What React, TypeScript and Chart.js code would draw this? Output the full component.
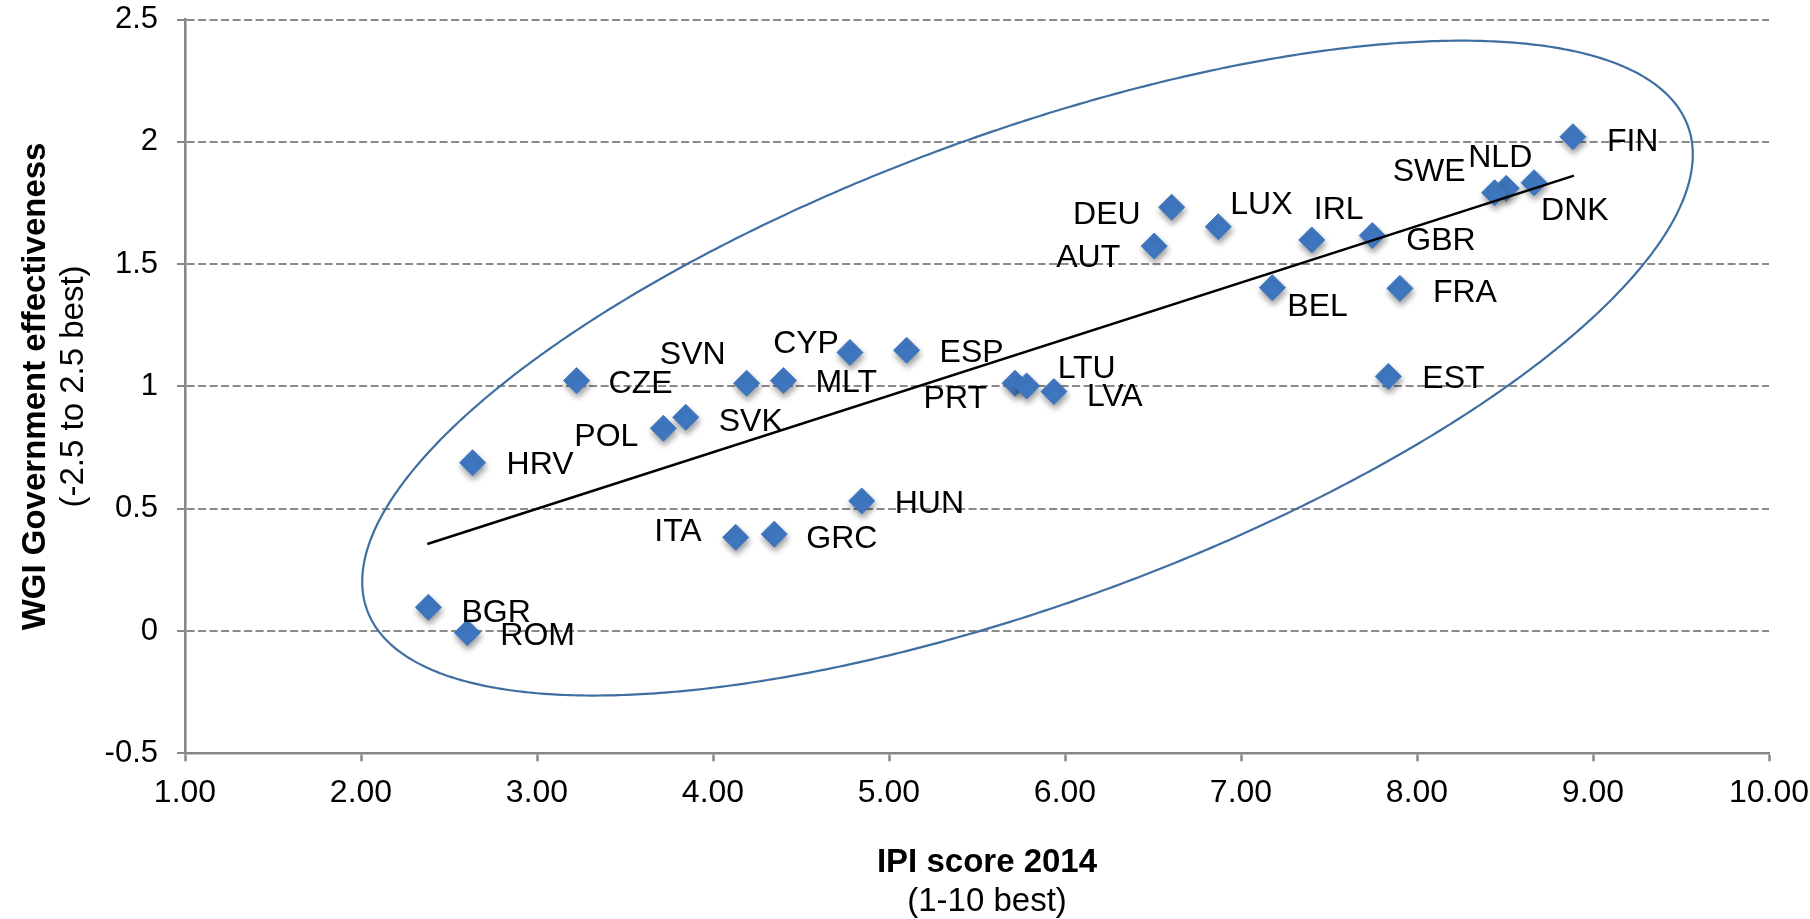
import React, { useEffect, useRef } from "react";
import { Chart, registerables } from "chart.js";

Chart.register(...registerables);

// ---------------- data ----------------
const countries = [
  "FIN", "NLD", "SWE", "DNK", "DEU", "LUX", "IRL", "GBR", "AUT", "BEL",
  "FRA", "EST", "CYP", "ESP", "PRT", "LTU", "LVA", "SVN", "MLT", "CZE",
  "SVK", "POL", "HRV", "HUN", "GRC", "ITA", "BGR", "ROM",
];
const ipiScore2014 = [
  8.886, 8.507, 8.441, 8.665, 6.606, 6.871, 7.402, 7.746, 6.507, 7.178,
  7.903, 7.837, 4.778, 5.1, 5.716, 5.782, 5.937, 4.191, 4.4, 3.225,
  3.845, 3.718, 2.634, 4.845, 4.348, 4.129, 2.383, 2.604,
];
const wgiGovEffectiveness = [
  2.021, 1.81, 1.792, 1.833, 1.733, 1.653, 1.599, 1.617, 1.574, 1.404,
  1.401, 1.041, 1.139, 1.148, 1.013, 1.002, 0.979, 1.013, 1.024, 1.024,
  0.874, 0.829, 0.688, 0.532, 0.396, 0.383, 0.097, -0.007,
];
// linear trend line end points
const trendIpi = [2.377, 8.892];
const trendWgi = [0.356, 1.862];
// hand-drawn ellipse (data units): centre, rightmost point, top point on the centre's vertical
const ellipseCenter = [5.787, 1.075];
const ellipseRightmost = [9.567, 1.948];
const ellipseTopAtCenter = [5.787, 2.09];

const xTitle = "IPI score 2014";
const xSubtitle = "(1-10 best)";
const yTitle = "WGI Government effectiveness";
const ySubtitle = "(-2.5 to 2.5 best)";

// ---------------- style ----------------
const FONT = "'Liberation Sans', Arial, Helvetica, sans-serif";
const GRID = "#8a8a8a";
const AXIS = "#878787";
const DIAMOND = "#3f78c1";
const ELLIPSE = "#3f6fa1";

type Anchor = "left" | "right" | "center";
// label anchor relative to its point: [textAlign, dx, dy]
const labelPlacement: Record<string, [Anchor, number, number]> = {
  FIN: ["left", 34, 3],
  NLD: ["center", -6, -33],
  SWE: ["right", -29, -23],
  DNK: ["left", 7, 26],
  DEU: ["right", -31, 5],
  LUX: ["left", 12, -24],
  IRL: ["left", 2, -32],
  GBR: ["left", 34, 3],
  AUT: ["right", -34, 9],
  BEL: ["left", 15, 17],
  FRA: ["left", 33, 2],
  EST: ["left", 34, 0],
  CYP: ["right", -11, -11],
  ESP: ["left", 33, 0],
  PRT: ["right", -28, 13],
  LTU: ["left", 31, -19],
  LVA: ["left", 33, 3],
  SVN: ["right", -21, -31],
  MLT: ["left", 32, 0],
  CZE: ["left", 32, 1],
  SVK: ["left", 33, 2],
  POL: ["right", -25, 6],
  HRV: ["left", 34, 0],
  HUN: ["left", 33, 1],
  GRC: ["left", 32, 2],
  ITA: ["right", -34, -8],
  BGR: ["left", 33, 3],
  ROM: ["left", 33, 1],
};

const CANVAS_W = 1810;
const CANVAS_H = 919;

const shadowPlugin = {
  id: "diamondShadow",
  beforeDatasetDraw(chart: any, args: any) {
    if (chart.data.datasets[args.index].label !== "Countries") return;
    const ctx = chart.ctx;
    ctx.save();
    ctx.shadowColor = "rgba(0,0,0,0.4)";
    ctx.shadowBlur = 6;
    ctx.shadowOffsetX = 1;
    ctx.shadowOffsetY = 4;
  },
  afterDatasetDraw(chart: any, args: any) {
    if (chart.data.datasets[args.index].label !== "Countries") return;
    chart.ctx.restore();
  },
};

const ellipsePlugin = {
  id: "ellipseShape",
  afterDatasetsDraw(chart: any) {
    const { ctx } = chart;
    const xs = chart.scales.x;
    const ys = chart.scales.y;
    const [cx, cy] = ellipseCenter;
    const ux = ellipseRightmost[0] - cx;
    const uy = ellipseRightmost[1] - cy;
    const vx = ellipseTopAtCenter[0] - cx;
    const vy = ellipseTopAtCenter[1] - cy;
    ctx.save();
    ctx.beginPath();
    for (let k = 0; k <= 720; k++) {
      const t = (k / 720) * Math.PI * 2;
      const dx = cx + ux * Math.cos(t) + vx * Math.sin(t);
      const dy = cy + uy * Math.cos(t) + vy * Math.sin(t);
      const px = xs.getPixelForValue(dx);
      const py = ys.getPixelForValue(dy);
      if (k === 0) ctx.moveTo(px, py);
      else ctx.lineTo(px, py);
    }
    ctx.closePath();
    ctx.strokeStyle = ELLIPSE;
    ctx.lineWidth = 2.2;
    ctx.stroke();
    ctx.restore();
  },
};

const labelsPlugin = {
  id: "pointLabels",
  afterDatasetsDraw(chart: any) {
    const { ctx } = chart;
    const idx = chart.data.datasets.findIndex((d: any) => d.label === "Countries");
    const meta = chart.getDatasetMeta(idx);
    const size = 32;
    ctx.save();
    ctx.font = `${size}px ${FONT}`;
    ctx.fillStyle = "#000";
    ctx.textBaseline = "alphabetic";
    meta.data.forEach((pt: any, i: number) => {
      const code = countries[i];
      const [align, dx, dy] = labelPlacement[code] || ["left", 33, 0];
      ctx.textAlign = align;
      ctx.fillText(code, pt.x + dx, pt.y + dy + 0.358 * size);
    });
    ctx.restore();
  },
};

const titlesPlugin = {
  id: "axisTitles",
  afterDraw(chart: any) {
    const { ctx, chartArea } = chart;
    const midY = (chartArea.top + chartArea.bottom) / 2;
    const midX = (chartArea.left + chartArea.right) / 2 + 10;
    ctx.save();
    ctx.fillStyle = "#000";
    ctx.textAlign = "center";
    ctx.textBaseline = "alphabetic";
    // x title
    ctx.font = `bold 33px ${FONT}`;
    ctx.fillText(xTitle, midX, 872);
    ctx.font = `33px ${FONT}`;
    ctx.fillText(xSubtitle, midX, 911);
    // y title
    ctx.save();
    ctx.translate(45, midY);
    ctx.rotate(-Math.PI / 2);
    ctx.font = `bold 33px ${FONT}`;
    ctx.fillText(yTitle, 0, 0);
    ctx.restore();
    ctx.save();
    ctx.translate(83, midY);
    ctx.rotate(-Math.PI / 2);
    ctx.font = `33px ${FONT}`;
    ctx.fillText(ySubtitle, 0, 0);
    ctx.restore();
    ctx.restore();
  },
};

export default function App() {
  const canvasRef = useRef<HTMLCanvasElement | null>(null);

  useEffect(() => {
    const canvas = canvasRef.current;
    if (!canvas) return;
    const points = countries.map((_, i) => ({ x: ipiScore2014[i], y: wgiGovEffectiveness[i] }));
    const trend = trendIpi.map((x, i) => ({ x, y: trendWgi[i] }));

    const chart = new Chart(canvas, {
      type: "scatter",
      data: {
        datasets: [
          {
            label: "Countries",
            data: points,
            pointStyle: "rectRot",
            pointRadius: 13,
            pointHoverRadius: 13,
            backgroundColor: DIAMOND,
            borderColor: DIAMOND,
            borderWidth: 1,
            order: 1,
          },
          {
            label: "Trend",
            data: trend,
            showLine: true,
            pointRadius: 0,
            borderColor: "#000",
            borderWidth: 2.6,
            fill: false,
            order: 0,
          } as any,
        ],
      },
      options: {
        responsive: false,
        maintainAspectRatio: false,
        devicePixelRatio: 1,
        animation: false,
        events: [],
        layout: { padding: { top: 19.6, right: 41, bottom: 0, left: 0 } },
        plugins: {
          legend: { display: false },
          tooltip: { enabled: false },
          title: { display: false },
        },
        scales: {
          x: {
            type: "linear",
            min: 1,
            max: 10,
            afterFit: (s: any) => {
              s.height = CANVAS_H - 753.3;
              s.paddingLeft = 0;
              s.paddingRight = 0;
            },
            ticks: {
              stepSize: 1,
              autoSkip: false,
              maxRotation: 0,
              padding: 13,
              color: "#000",
              font: { family: FONT, size: 32 },
              callback: (v: any) => Number(v).toFixed(2),
            },
            grid: {
              display: true,
              drawOnChartArea: false,
              drawTicks: true,
              tickLength: 8,
              tickColor: AXIS,
              tickWidth: 2.5,
            },
            border: { display: true, color: AXIS, width: 2.6 },
          },
          y: {
            type: "linear",
            min: -0.5,
            max: 2.5,
            afterFit: (s: any) => {
              s.width = 185;
              s.paddingTop = 0;
              s.paddingBottom = 0;
            },
            ticks: {
              stepSize: 0.5,
              padding: 19,
              color: "#000",
              font: { family: FONT, size: 31 },
              callback: (v: any) => String(Number(v)),
            },
            grid: {
              display: true,
              drawOnChartArea: true,
              drawTicks: true,
              color: GRID,
              lineWidth: 2,
              tickLength: 8,
              tickColor: AXIS,
              tickWidth: 2,
              tickBorderDash: [],
            },
            border: { display: true, color: AXIS, width: 2.6, dash: [8, 3.5] },
          },
        },
      } as any,
      plugins: [shadowPlugin, ellipsePlugin, labelsPlugin, titlesPlugin],
    });

    return () => {
      chart.destroy();
    };
  }, []);

  return (
    <div
      style={{
        position: "fixed",
        left: 0,
        top: 0,
        width: CANVAS_W + "px",
        height: CANVAS_H + "px",
        background: "#fff",
      }}
    >
      <canvas
        ref={canvasRef}
        width={CANVAS_W}
        height={CANVAS_H}
        style={{ display: "block", width: CANVAS_W + "px", height: CANVAS_H + "px" }}
      />
    </div>
  );
}
